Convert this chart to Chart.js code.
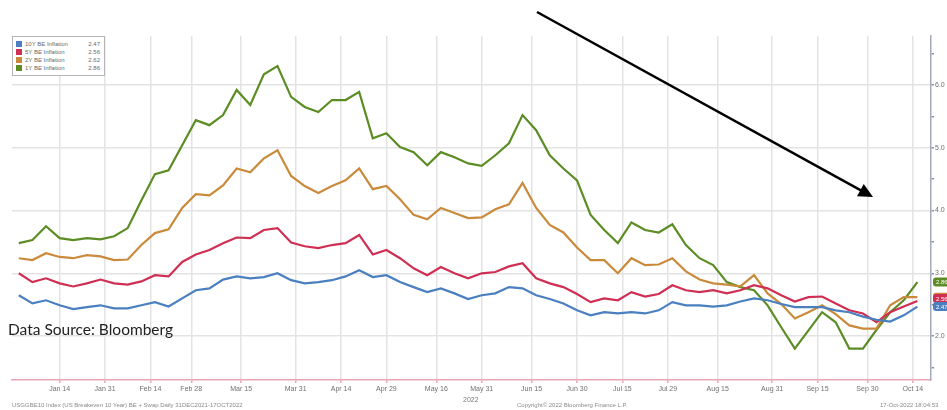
<!DOCTYPE html>
<html>
<head>
<meta charset="utf-8">
<script src="https://cdn.jsdelivr.net/npm/chart.js@4/dist/chart.umd.min.js"></script>
<style>
  html, body { margin: 0; padding: 0; background: #fff; }
  #wrap { position: relative; width: 947px; height: 410px; overflow: hidden; background: #fff; }
  #legend { position: absolute; left: 12px; top: 36px; width: 87px; padding: 3px 1px 3px 3px; background: #fff;
            border: 1px solid #b5b5b5; font: 6px "Liberation Sans", Arial, sans-serif; color: #6a6a6a; }
  #legend .row { height: 8px; line-height: 8px; white-space: nowrap; }
  #legend .sw { display: inline-block; width: 6px; height: 6px; margin-right: 3px; vertical-align: -1px; }
  #legend .val { float: right; margin-right: 3px; }
  #source { position: absolute; left: 8px; top: 320px; font: 15.5px Lato, "Open Sans", sans-serif; color: #222; }
  .foot { position: absolute; top: 402px; font: 6px "Liberation Sans", Arial, sans-serif; color: #8a8a8a; white-space: nowrap; }
  #year { position: absolute; left: 463px; top: 396px; font: 7px "Liberation Sans", Arial, sans-serif; color: #777; }
</style>
</head>
<body>
<div id="wrap">
  <canvas id="beChart" width="947" height="410"></canvas>
  <div id="legend"></div>
  <div id="source">Data Source: Bloomberg</div>
  <div id="year">2022</div>
  <div class="foot" style="left:12px">USGGBE10 Index (US Breakeven 10 Year) BE + Swap  Daily 31DEC2021-17OCT2022</div>
  <div class="foot" style="left:517px">Copyright© 2022 Bloomberg Finance L.P.</div>
  <div class="foot" style="left:880px">17-Oct-2022 18:04:53</div>
</div>
<script>
// x = business days since 31 Dec 2021, one reading every 3 days
const FIRST_DAY = 1;
const STEP = 3;

const tickDays = [10, 20, 30, 39, 50, 62, 72, 82, 93, 103, 114, 124, 134, 144, 155, 167, 177, 188, 198];
const tickLabels = ['Jan 14', 'Jan 31', 'Feb 14', 'Feb 28', 'Mar 15', 'Mar 31', 'Apr 14', 'Apr 29', 'May 16', 'May 31',
                    'Jun 15', 'Jun 30', 'Jul 15', 'Jul 29', 'Aug 15', 'Aug 31', 'Sep 15', 'Sep 30', 'Oct 14'];
const yTicks = [1.5, 2, 2.5, 3, 3.5, 4, 4.5, 5, 5.5, 6, 6.5];

const be10y = [2.65, 2.52, 2.57, 2.49, 2.43, 2.46, 2.49, 2.44, 2.44, 2.49, 2.54,
               2.47, 2.60, 2.73, 2.76, 2.90, 2.95, 2.92, 2.94, 3.00, 2.89, 2.84,
               2.86, 2.89, 2.95, 3.05, 2.94, 2.97, 2.86, 2.78, 2.70, 2.76, 2.68,
               2.59, 2.65, 2.68, 2.78, 2.76, 2.65, 2.59, 2.52, 2.41, 2.33, 2.38,
               2.36, 2.38, 2.36, 2.41, 2.54, 2.49, 2.49, 2.47, 2.49, 2.55, 2.60,
               2.57, 2.51, 2.46, 2.46, 2.46, 2.41, 2.38, 2.31, 2.26, 2.23, 2.33, 2.47];
const be5y = [3.00, 2.86, 2.92, 2.84, 2.79, 2.84, 2.90, 2.84, 2.82, 2.87, 2.97,
              2.95, 3.18, 3.30, 3.37, 3.48, 3.57, 3.56, 3.69, 3.72, 3.49, 3.43,
              3.40, 3.45, 3.48, 3.61, 3.30, 3.37, 3.24, 3.08, 2.97, 3.10, 3.00,
              2.92, 3.00, 3.02, 3.11, 3.16, 2.92, 2.84, 2.78, 2.67, 2.54, 2.60,
              2.57, 2.70, 2.63, 2.67, 2.81, 2.73, 2.70, 2.73, 2.68, 2.73, 2.81,
              2.76, 2.65, 2.55, 2.62, 2.63, 2.52, 2.41, 2.36, 2.22, 2.38, 2.47, 2.56];
const be2y = [3.24, 3.21, 3.32, 3.26, 3.24, 3.29, 3.27, 3.21, 3.22, 3.45, 3.64,
              3.70, 4.04, 4.26, 4.24, 4.40, 4.67, 4.61, 4.83, 4.96, 4.55, 4.39,
              4.28, 4.39, 4.48, 4.67, 4.34, 4.39, 4.18, 3.93, 3.86, 4.04, 3.96,
              3.88, 3.89, 4.02, 4.10, 4.44, 4.04, 3.77, 3.65, 3.41, 3.21, 3.21,
              3.00, 3.24, 3.13, 3.14, 3.24, 3.03, 2.90, 2.84, 2.82, 2.79, 2.97,
              2.68, 2.51, 2.28, 2.38, 2.49, 2.35, 2.17, 2.12, 2.12, 2.49, 2.62, 2.62];
const be1y = [3.48, 3.53, 3.75, 3.56, 3.53, 3.56, 3.54, 3.59, 3.72, 4.16, 4.58,
              4.64, 5.04, 5.44, 5.36, 5.52, 5.92, 5.68, 6.17, 6.30, 5.81, 5.65,
              5.57, 5.76, 5.76, 5.89, 5.15, 5.23, 5.01, 4.93, 4.72, 4.93, 4.85,
              4.75, 4.71, 4.88, 5.07, 5.52, 5.28, 4.88, 4.67, 4.48, 3.93, 3.69,
              3.48, 3.81, 3.69, 3.65, 3.78, 3.45, 3.24, 3.13, 2.86, 2.78, 2.73,
              2.49, 2.14, 1.80, 2.09, 2.38, 2.22, 1.80, 1.80, 2.10, 2.38, 2.57, 2.86];

const series = [
    { name: '10Y BE Inflation', values: be10y, color: '#4a7fc0' },
    { name: '5Y BE Inflation', values: be5y, color: '#cf2f52' },
    { name: '2Y BE Inflation', values: be2y, color: '#c98b3b' },
    { name: '1Y BE Inflation', values: be1y, color: '#5c8d24' }
];

// legend box (top left)
const legendEl = document.getElementById('legend');
series.forEach(function (s) {
    const row = document.createElement('div');
    row.className = 'row';
    row.innerHTML = '<span class="sw" style="background:' + s.color + '"></span>' + s.name +
        '<span class="val">' + s.values[s.values.length - 1].toFixed(2) + '</span>';
    legendEl.appendChild(row);
});

// last value tags on the right axis + the arrow
const extras = {
    id: 'extras',
    afterDraw(chart) {
        const ctx = chart.ctx;
        const y = chart.scales.y;
        const left = chart.chartArea.right + 2;
        const order = [2, 1, 0, 3];
        ctx.save();
        order.forEach(function (k) {
            const s = series[k];
            const v = s.values[s.values.length - 1];
            let py = y.getPixelForValue(v);
            if (k === 1) py -= 2.5;
            ctx.fillStyle = s.color;
            ctx.beginPath();
            ctx.roundRect(left, py - 4.5, 20, 9, 3);
            ctx.fill();
            ctx.fillStyle = '#fff';
            ctx.font = '6px "Liberation Sans", Arial, sans-serif';
            ctx.textBaseline = 'middle';
            ctx.fillText(v.toFixed(2), left + 3, py + 0.5);
        });

        // annotation arrow
        const x0 = 537, y0 = 12, x1 = 873, y1 = 197;
        const ang = Math.atan2(y1 - y0, x1 - x0);
        const head = 16;
        ctx.strokeStyle = '#000';
        ctx.fillStyle = '#000';
        ctx.lineWidth = 2.5;
        ctx.beginPath();
        ctx.moveTo(x0, y0);
        ctx.lineTo(x1 - Math.cos(ang) * head * 0.8, y1 - Math.sin(ang) * head * 0.8);
        ctx.stroke();
        ctx.beginPath();
        ctx.moveTo(x1, y1);
        ctx.lineTo(x1 - head * Math.cos(ang - 0.45), y1 - head * Math.sin(ang - 0.45));
        ctx.lineTo(x1 - head * Math.cos(ang + 0.45), y1 - head * Math.sin(ang + 0.45));
        ctx.closePath();
        ctx.fill();
        ctx.restore();
    }
};

const ctx = document.getElementById('beChart').getContext('2d');
const beChart = new Chart(ctx, {
    type: 'line',
    data: {
        datasets: series.map(function (s) {
            return {
                label: s.name,
                data: s.values.map(function (v, i) { return { x: FIRST_DAY + i * STEP, y: v }; }),
                borderColor: s.color,
                borderWidth: 2.2,
                pointRadius: 0,
                tension: 0,
                fill: false
            };
        })
    },
    options: {
        responsive: false,
        animation: false,
        layout: { padding: { left: 12, top: 36, right: 0, bottom: 0 } },
        plugins: { legend: { display: false }, tooltip: { enabled: false } },
        scales: {
            x: {
                type: 'linear',
                min: -0.5,
                max: 202,
                afterBuildTicks: function (scale) {
                    scale.ticks = tickDays.map(function (d) { return { value: d }; });
                },
                afterFit: function (scale) { scale.height = 30; },
                ticks: {
                    autoSkip: false,
                    maxRotation: 0,
                    padding: 2,
                    color: '#6f6f6f',
                    font: { size: 7, family: '"Liberation Sans", Arial, sans-serif' },
                    callback: function (v, i) { return tickLabels[i]; }
                },
                grid: { color: '#e3e3e3', lineWidth: 1.5, tickLength: 3, tickColor: '#e9a5b3' },
                border: { color: '#e9a5b3', width: 1.5 }
            },
            y: {
                position: 'right',
                min: 1.3,
                max: 6.78,
                afterBuildTicks: function (scale) {
                    scale.ticks = yTicks.map(function (v) { return { value: v }; });
                },
                afterFit: function (scale) { scale.width = 16; },
                ticks: {
                    padding: 1,
                    color: '#6f6f6f',
                    font: { size: 7, family: '"Liberation Sans", Arial, sans-serif' },
                    callback: function (v) { return v % 1 === 0 ? v.toFixed(1) : ''; }
                },
                grid: {
                    color: function (c) { return c.tick && c.tick.value % 1 === 0 ? '#e3e3e3' : 'rgba(0,0,0,0)'; },
                    lineWidth: 1.5,
                    tickLength: 3,
                    tickColor: '#8792a8'
                },
                border: { color: '#a2aabb', width: 1.5 }
            }
        }
    },
    plugins: [extras]
});
</script>
</body>
</html>
